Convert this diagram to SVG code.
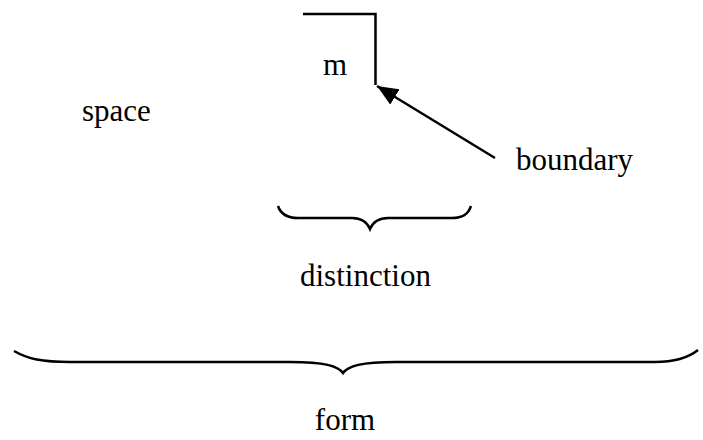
<svg xmlns="http://www.w3.org/2000/svg" width="703" height="440" viewBox="0 0 703 440">
<style>
.t{font-family:"Liberation Serif","Times New Roman",serif;font-size:31px;fill:#000}
.s{fill:none;stroke:#000;stroke-width:2.5}
</style>
<defs>
<marker id="ah" markerUnits="userSpaceOnUse" markerWidth="22" markerHeight="18" viewBox="0 0 22 18" refX="21" refY="9" orient="auto">
<path d="M0,0 L21,9 L0,18 Z" fill="#000"/>
</marker>
</defs>
<rect width="703" height="440" fill="#fff"/>
<g id="mark">
<path class="s" d="M303,14 L375.5,14 L375.5,85" stroke-width="3"/>
</g>
<g id="m"><text class="t" x="323" y="75">m</text></g>
<g id="space"><text class="t" x="82" y="121">space</text></g>
<g id="boundary"><text class="t" x="516" y="170">boundary</text></g>
<g id="distinction"><text class="t" x="300" y="286">distinction</text></g>
<g id="form"><text class="t" x="345" y="430" text-anchor="middle">form</text></g>
<g id="connectors">
<path class="s" d="M495,158 L377,86" marker-end="url(#ah)"/>
<path class="s" d="M278,206 C281,215 288,218 298,218 L352,218 C362,218 367,222 370,229 C373,222 378,218 388,218 L452,218 C462,218 468,215 471,206"/>
<path class="s" d="M14,351 C28,359 42,362 70,362 L290,362 C325,362 338,366 343,373 C348,366 361,362 396,362 L655,362 C675,362 688,358 698,350"/>
</g>
</svg>
